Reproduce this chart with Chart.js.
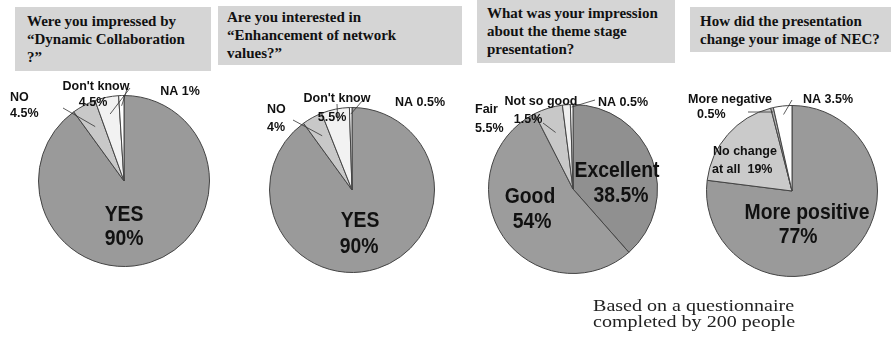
<!DOCTYPE html>
<html>
<head>
<meta charset="utf-8">
<script src="https://cdn.jsdelivr.net/npm/chart.js@4.4.0/dist/chart.umd.min.js"></script>
<style>
  body { margin: 0; background: #fff; width: 891px; height: 344px; position: relative; overflow: hidden; }
  .box { position: absolute; background: #d5d5d5; color: #111; font: bold 15px/18px "Liberation Serif", serif; box-sizing: border-box; }
  canvas { position: absolute; }
  .note { position: absolute; left: 593px; top: 298px; font: 17px/16px "Liberation Serif", serif; color: #222; transform: scaleX(1.18); transform-origin: left top; white-space: nowrap; }
</style>
</head>
<body>
<div class="box" style="left:15px;top:7px;width:196px;height:64px;padding:5px 0 0 12px">Were you impressed by<br>“Dynamic Collaboration<br>?”</div>
<div class="box" style="left:218px;top:6px;width:244px;height:59px;padding:2px 0 0 9px">Are you interested in<br>“Enhancement of network<br>values?”</div>
<div class="box" style="left:477px;top:0px;width:198px;height:63px;padding:4px 0 0 10px">What was your impression<br>about the theme stage<br>presentation?</div>
<div class="box" style="left:690px;top:7px;width:201px;height:45px;padding:5px 0 0 10px">How did the presentation<br>change your image of NEC?</div>

<canvas id="pie1" width="222" height="225" style="left:0;top:75px"></canvas>
<canvas id="pie2" width="232" height="225" style="left:222px;top:75px"></canvas>
<canvas id="pie3" width="215" height="225" style="left:460px;top:75px"></canvas>
<canvas id="pie4" width="211" height="225" style="left:680px;top:75px"></canvas>

<div class="note">Based on a questionnaire<br>completed by 200 people</div>

<script>
// survey results (percent)
const q1Labels = ['YES', 'NO', "Don't know", 'NA'];
const q1Values = [90, 4.5, 4.5, 1];
const q2Labels = ['YES', 'NO', "Don't know", 'NA'];
const q2Values = [90, 4, 5.5, 0.5];
const q3Labels = ['Excellent', 'Good', 'Fair', 'Not so good', 'NA'];
const q3Values = [38.5, 54, 5.5, 1.5, 0.5];
const q4Labels = ['More positive', 'No change at all', 'More negative', 'NA'];
const q4Values = [77, 19, 0.5, 3.5];

const SMALL = 'bold 12.5px "Liberation Sans", Arial, sans-serif';
const BIG = 'bold 22px "Liberation Sans", Arial, sans-serif';

// text annotations, page coords (x, baseline y)
const notes1 = [
  { t: 'NO', x: 10, y: 101, a: 'left' },
  { t: '4.5%', x: 10, y: 117, a: 'left' },
  { t: "Don't know", x: 96, y: 90 },
  { t: '4.5%', x: 93, y: 106 },
  { t: 'NA 1%', x: 180, y: 95 },
  { t: 'YES', x: 124, y: 221, big: true },
  { t: '90%', x: 124, y: 245, big: true }
];
const leaders1 = [
  { from: [63, 108], slice: 1, f: 0.72 },
  { from: [130, 88], slice: 2, f: 0.8 },
  { from: [127, 89], slice: 3, f: 0.88 }
];

const notes2 = [
  { t: 'NO', x: 267, y: 113, a: 'left' },
  { t: '4%', x: 267, y: 131, a: 'left' },
  { t: "Don't know", x: 337, y: 102 },
  { t: '5.5%', x: 332, y: 121 },
  { t: 'NA 0.5%', x: 420, y: 106 },
  { t: 'YES', x: 360, y: 227, big: true },
  { t: '90%', x: 359, y: 253, big: true }
];
const leaders2 = [
  { from: [293, 120], slice: 1, f: 0.75 },
  { from: [337, 104], slice: 2, f: 0.85 },
  { from: [363, 100], slice: 3, f: 0.92 }
];

const notes3 = [
  { t: 'Fair', x: 475, y: 113, a: 'left' },
  { t: '5.5%', x: 475, y: 132, a: 'left' },
  { t: 'Not so good', x: 541, y: 105 },
  { t: '1.5%', x: 528, y: 123 },
  { t: 'NA 0.5%', x: 623, y: 106 },
  { t: 'Excellent', x: 617, y: 177, big: true },
  { t: '38.5%', x: 621, y: 202, big: true },
  { t: 'Good', x: 530, y: 203, big: true },
  { t: '54%', x: 532, y: 228, big: true }
];
const leaders3 = [
  { from: [543, 123], slice: 2, f: 0.7 },
  { from: [595, 100], slice: 4, f: 0.97 }
];

const notes4 = [
  { t: 'More negative', x: 688, y: 103, a: 'left' },
  { t: '0.5%', x: 697, y: 118, a: 'left' },
  { t: 'NA 3.5%', x: 803, y: 103, a: 'left' },
  { t: 'No change', x: 713, y: 155, a: 'left' },
  { t: 'at all  19%', x: 712, y: 173, a: 'left' },
  { t: 'More positive', x: 807, y: 219, big: true },
  { t: '77%', x: 798, y: 243, big: true }
];
const leaders4 = [
  { from: [748, 112], slice: 2, f: 0.95 },
  { from: [792, 100], slice: 3, f: 0.9 }
];

// draws labels and leader lines on top of the pie
const notePlugin = {
  id: 'notes',
  afterDraw(chart, args, opts) {
    const c = chart.ctx;
    const ox = opts.left, oy = opts.top;
    const arcs = chart.getDatasetMeta(0).data;
    c.save();
    c.strokeStyle = '#333';
    c.lineWidth = 0.8;
    opts.leaders.forEach(l => {
      const arc = arcs[l.slice];
      const mid = (arc.startAngle + arc.endAngle) / 2;
      const r = arc.outerRadius * l.f;
      c.beginPath();
      c.moveTo(l.from[0] - ox, l.from[1] - oy);
      c.lineTo(arc.x + Math.cos(mid) * r, arc.y + Math.sin(mid) * r);
      c.stroke();
    });
    c.fillStyle = '#111';
    c.textBaseline = 'alphabetic';
    opts.notes.forEach(n => {
      c.save();
      c.translate(n.x - ox, n.y - oy);
      if (n.big) {
        c.font = BIG;
        c.scale(0.88, 1);
      } else {
        c.font = SMALL;
      }
      c.textAlign = n.a || 'center';
      c.fillText(n.t, 0, 0);
      c.restore();
    });
    c.restore();
  }
};

// cx, cy, r: pie centre and radius in page coords
function makePie(id, left, top, cx, cy, r, labels, values, colors, notes, leaders) {
  const el = document.getElementById(id);
  const w = el.width, h = el.height;
  return new Chart(el.getContext('2d'), {
    type: 'pie',
    data: {
      labels: labels,
      datasets: [{
        data: values,
        backgroundColor: colors,
        borderColor: '#444',
        borderWidth: 1
      }]
    },
    options: {
      responsive: false,
      animation: false,
      layout: {
        padding: {
          left: cx - r - left,
          right: left + w - cx - r,
          top: cy - r - top,
          bottom: top + h - cy - r
        }
      },
      plugins: {
        legend: { display: false },
        tooltip: { enabled: false },
        notes: { left: left, top: top, notes: notes, leaders: leaders }
      }
    },
    plugins: [notePlugin]
  });
}

makePie('pie1', 0, 75, 124, 181, 86, q1Labels, q1Values,
  ['#9a9a9a', '#c8c8c8', '#f2f2f2', '#ffffff'], notes1, leaders1);
makePie('pie2', 222, 75, 352, 190, 83, q2Labels, q2Values,
  ['#9a9a9a', '#c8c8c8', '#f2f2f2', '#ffffff'], notes2, leaders2);
makePie('pie3', 460, 75, 573, 189, 85, q3Labels, q3Values,
  ['#909090', '#9c9c9c', '#c8c8c8', '#eeeeee', '#ffffff'], notes3, leaders3);
makePie('pie4', 680, 75, 792, 191, 86, q4Labels, q4Values,
  ['#9a9a9a', '#cacaca', '#b5b5b5', '#ffffff'], notes4, leaders4);
</script>
</body>
</html>
